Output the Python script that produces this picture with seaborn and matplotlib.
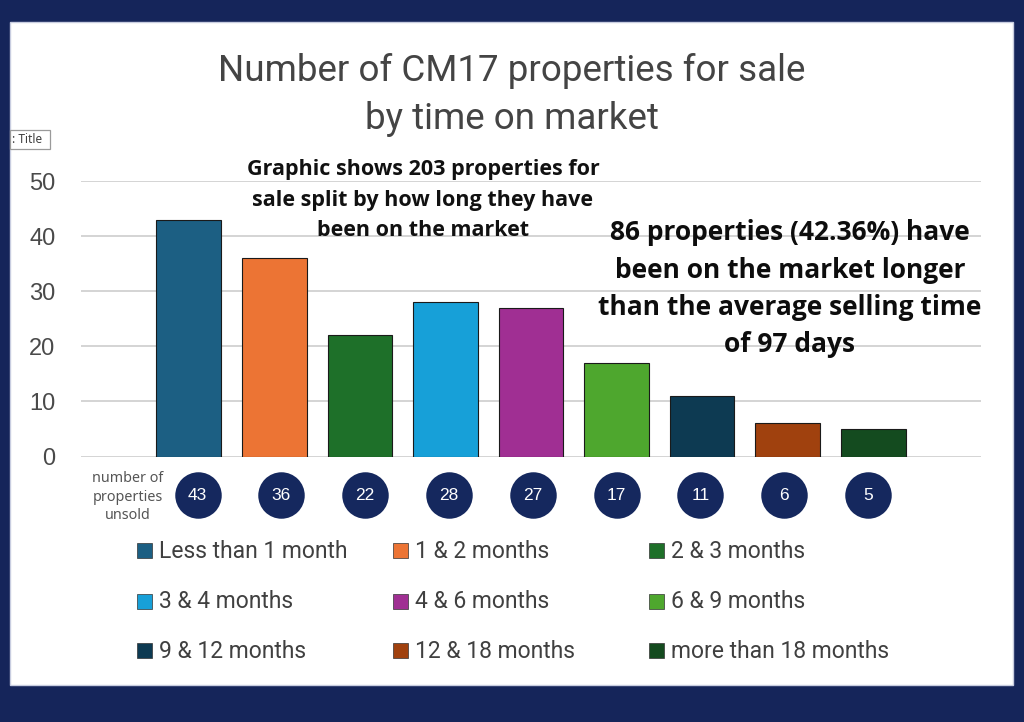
import matplotlib
matplotlib.use("Agg")
import matplotlib.pyplot as plt
import matplotlib.transforms as mtransforms
from matplotlib.patches import Rectangle
import seaborn as sns
import pandas as pd

# ---- data ----
categories = ["Less than 1 month", "1 & 2 months", "2 & 3 months",
              "3 & 4 months", "4 & 6 months", "6 & 9 months",
              "9 & 12 months", "12 & 18 months", "more than 18 months"]
values = [43, 36, 22, 28, 27, 17, 11, 6, 5]
colors = ["#1c5f83", "#ec7434", "#1e7029", "#17a0d8", "#a02f93",
          "#4ea72e", "#0d3a52", "#a0410e", "#144b1f"]
yticks = [0, 10, 20, 30, 40, 50]
title_lines = ["Number of CM17 properties for sale", "by time on market"]
note1_lines = ["Graphic shows 203 properties for",
               "sale split by how long they have",
               "been on the market"]
note2_lines = ["86 properties (42.36%) have",
               "been on the market longer",
               "than the average selling time",
               "of 97 days"]
row_label_lines = ["number of", "properties", "unsold"]

W, H = 1024, 722
sns.set_theme(style="white")
plt.rcParams["font.family"] = ["Roboto", "DejaVu Sans"]

fig = plt.figure(figsize=(W / 100, H / 100), dpi=100)
fig.patch.set_facecolor("#15255a")

def fx(px):
    return px / W

def fy(py):
    return 1 - py / H

# white panel (drawn behind everything)
fig.patches.append(Rectangle((fx(10), fy(685)), fx(1013) - fx(10), fy(22) - fy(685),
                             transform=fig.transFigure, facecolor="white",
                             edgecolor="#c8cde0", linewidth=1.0, zorder=-5))

# axes
ax_left, ax_right = 81, 981
ax_top, ax_bot = 181, 456.5
ax = fig.add_axes([fx(ax_left), fy(ax_bot), fx(ax_right) - fx(ax_left), fy(ax_top) - fy(ax_bot)])
ax.set_facecolor("none")
ax.set_zorder(1)

df = pd.DataFrame({"cat": categories, "val": values})
sns.barplot(data=df, x="cat", y="val", hue="cat", palette=colors, legend=False,
            width=0.76, ax=ax, saturation=1, zorder=3)
for p, c in zip(ax.patches, colors):
    p.set_edgecolor("#1a1a1a")
    p.set_linewidth(0.8)

ax.set_xlim(-1.263, 9.263)
ax.set_ylim(0, 50)
ax.set_yticks(yticks)
ax.set_yticklabels([str(t) for t in yticks], fontfamily=["Liberation Sans", "DejaVu Sans"],
                   fontsize=17, color="#4a4a4a")
ax.tick_params(axis="y", length=0, pad=18.5)
ax.set_xticks([])
ax.set_xlabel("")
ax.set_ylabel("")
for s in ax.spines.values():
    s.set_visible(False)
ax.grid(axis="y", color="#d4d4d4", linewidth=1.4, zorder=0)
ax.set_axisbelow(True)

# circles with values under the bars
trans = mtransforms.blended_transform_factory(ax.transData, ax.transAxes)
circle_y = (ax_bot - 495) / (ax_bot - ax_top)
circle_x = [0.1 + i * 0.98 for i in range(len(values))]
ax.scatter(circle_x, [circle_y] * len(values), s=1120, color="#15285e",
           transform=trans, clip_on=False, zorder=5, linewidths=0)
for x, v in zip(circle_x, values):
    ax.text(x, circle_y, str(v), transform=trans, ha="center", va="center",
            color="white", fontsize=12.5, zorder=6,
            fontfamily=["Liberation Sans", "DejaVu Sans"])

# row label
for i, line in enumerate(row_label_lines):
    fig.text(fx(128), fy(479 + i * 18.3), line, ha="center", va="center",
             fontsize=10.3, color="#555555", fontfamily=["Noto Sans", "DejaVu Sans"])

# title
for i, line in enumerate(title_lines):
    fig.text(fx(512), fy(71 + i * 48), line, ha="center", va="center",
             fontsize=26.5, color="#444444", fontfamily=["Roboto", "DejaVu Sans"])

# notes
for i, line in enumerate(note1_lines):
    fig.text(fx(423), fy(170 + i * 30.5), line, ha="center", va="center",
             fontsize=15.5, fontweight="bold", color="#111111",
             fontfamily=["Open Sans", "DejaVu Sans"])
for i, line in enumerate(note2_lines):
    fig.text(fx(790), fy(233 + i * 37.3), line, ha="center", va="center",
             fontsize=19, fontweight="bold", color="#0d0d0d",
             fontfamily=["Open Sans", "DejaVu Sans"])

# "Chart Title" fragment box
fig.patches.append(Rectangle((fx(10), fy(149)), fx(50) - fx(10), fy(130) - fy(149),
                             transform=fig.transFigure, facecolor="white",
                             edgecolor="#9a9a9a", linewidth=0.9, zorder=2))
fig.text(fx(12), fy(139.5), ": Title", ha="left", va="center", fontsize=8.5,
         color="#404040", fontfamily=["Noto Sans", "DejaVu Sans"], zorder=3)

# legend (3 columns x 3 rows)
col_x = [137, 393, 649]
row_y = [550, 601, 650]
sq = 15
for i, (lab, c) in enumerate(zip(categories, colors)):
    r, k = divmod(i, 3)
    x0, y0 = col_x[k], row_y[r]
    fig.patches.append(Rectangle((fx(x0), fy(y0 + sq / 2)), fx(sq), sq / H,
                                 transform=fig.transFigure, facecolor=c,
                                 edgecolor="#333333", linewidth=0.5, zorder=3))
    fig.text(fx(x0 + sq + 7), fy(y0 + 1), lab, ha="left", va="center",
             fontsize=16.5, color="#404040", fontfamily=["Roboto", "DejaVu Sans"])

fig.savefig("out.png", dpi=100, facecolor=fig.get_facecolor())
